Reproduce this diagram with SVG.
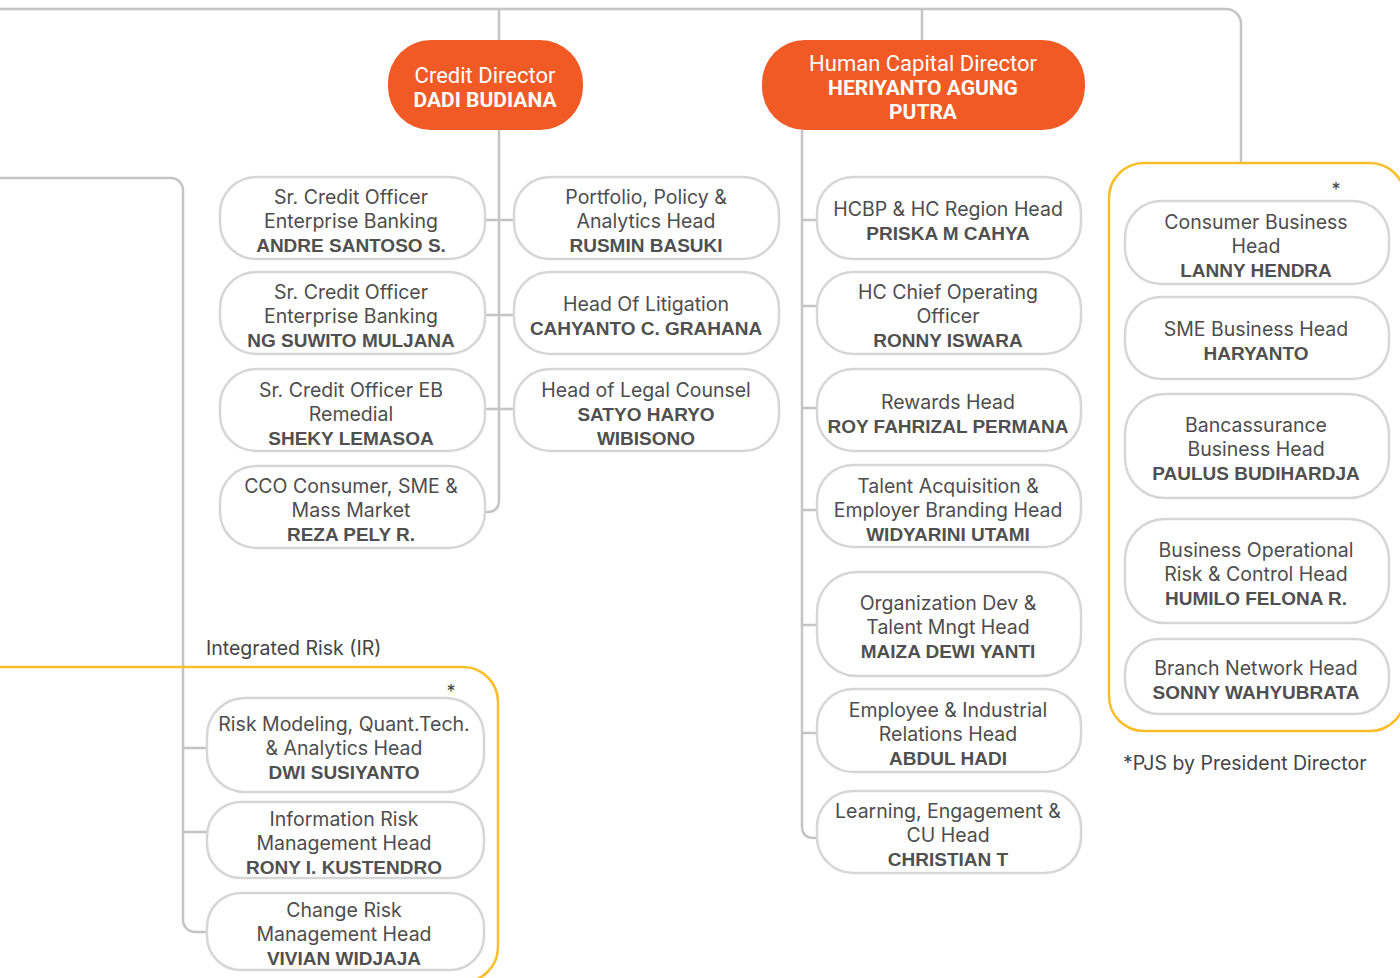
<svg xmlns="http://www.w3.org/2000/svg" width="1400" height="978" viewBox="0 0 1400 978">
<style>
.n{fill:#fff;stroke:#d6d6d6;stroke-width:2.5}
.d{fill:#f15a24}
.c{fill:none;stroke:#c4c4c4;stroke-width:2.5}
.y{fill:none;stroke:#fbbd2a;stroke-width:2.5}
text{font-family:Inter,"Open Sans","Liberation Sans",sans-serif;font-size:19.5px;fill:#4d4d4d;text-anchor:middle}
.b{font-family:"Liberation Sans",Arial,sans-serif;font-weight:bold;font-size:19px;fill:#505050}
.h{font-family:Roboto,"Liberation Sans",sans-serif;font-size:22px;fill:#fff}
.hb{font-family:Roboto,"Liberation Sans",sans-serif;font-size:21px;fill:#fff;font-weight:bold}
.l{text-anchor:start;fill:#444}
</style>
<g id="connectors">
<path class="c" d="M0,9 H1226 A15,15 0 0 1 1241,24 V163"/>
<path class="c" d="M499,9 V40 M922,9 V40"/>
<path class="c" d="M499,130 V500 Q499,512 487,512 H485 M486,220 H514 M486,315 H514 M486,409 H514"/>
<path class="c" d="M802,130 V826 Q802,838 814,838 H817 M802,220 H817 M802,306 H817 M802,408 H817 M802,510 H817 M802,625 H817 M802,733 H817"/>
<path class="c" d="M0,178 H171 A12,12 0 0 1 183,190 V920 A12,12 0 0 0 195,932 H207 M183,748 H207 M183,832 H207"/>
<path class="y" d="M0,667 H463 A35,35 0 0 1 498,702 V947 A35,35 0 0 1 463,982 H0"/>
<rect class="y" x="1109" y="163" width="296" height="568" rx="35"/>
</g>
<g id="credit-director"><rect class="d" x="388" y="40" width="195" height="90" rx="43"/><text class="h" x="485" y="83">Credit Director</text><text class="hb" x="485" y="107">DADI BUDIANA</text></g>
<g id="hc-director"><rect class="d" x="762" y="40" width="323" height="90" rx="43"/><text class="h" x="923" y="71">Human Capital Director</text><text class="hb" x="923" y="95">HERIYANTO AGUNG</text><text class="hb" x="923" y="119">PUTRA</text></g>

<g id="sco-andre"><rect class="n" x="220" y="177" width="265" height="82" rx="36"/><text x="351" y="204">Sr. Credit Officer</text><text x="351" y="228">Enterprise Banking</text><text class="b" x="351" y="252">ANDRE SANTOSO S.</text></g>
<g id="sco-ng"><rect class="n" x="220" y="272" width="265" height="82" rx="36"/><text x="351" y="299">Sr. Credit Officer</text><text x="351" y="323">Enterprise Banking</text><text class="b" x="351" y="347">NG SUWITO MULJANA</text></g>
<g id="sco-sheky"><rect class="n" x="220" y="369" width="265" height="82" rx="36"/><text x="351" y="397">Sr. Credit Officer EB</text><text x="351" y="421">Remedial</text><text class="b" x="351" y="445">SHEKY LEMASOA</text></g>
<g id="cco-reza"><rect class="n" x="220" y="466" width="265" height="82" rx="36"/><text x="351" y="493">CCO Consumer, SME &amp;</text><text x="351" y="517">Mass Market</text><text class="b" x="351" y="541">REZA PELY R.</text></g>

<g id="ppa-rusmin"><rect class="n" x="514" y="177" width="265" height="82" rx="36"/><text x="646" y="204">Portfolio, Policy &amp;</text><text x="646" y="228">Analytics Head</text><text class="b" x="646" y="252">RUSMIN BASUKI</text></g>
<g id="lit-cahyanto"><rect class="n" x="514" y="272" width="265" height="82" rx="36"/><text x="646" y="311">Head Of Litigation</text><text class="b" x="646" y="335">CAHYANTO C. GRAHANA</text></g>
<g id="legal-satyo"><rect class="n" x="514" y="369" width="265" height="82" rx="36"/><text x="646" y="397">Head of Legal Counsel</text><text class="b" x="646" y="421">SATYO HARYO</text><text class="b" x="646" y="445">WIBISONO</text></g>

<g id="hcbp-priska"><rect class="n" x="817" y="177" width="264" height="82" rx="36"/><text x="948" y="216">HCBP &amp; HC Region Head</text><text class="b" x="948" y="240">PRISKA M CAHYA</text></g>
<g id="hccoo-ronny"><rect class="n" x="817" y="272" width="264" height="82" rx="36"/><text x="948" y="299">HC Chief Operating</text><text x="948" y="323">Officer</text><text class="b" x="948" y="347">RONNY ISWARA</text></g>
<g id="rewards-roy"><rect class="n" x="817" y="369" width="264" height="82" rx="36"/><text x="948" y="409">Rewards Head</text><text class="b" x="948" y="433">ROY FAHRIZAL PERMANA</text></g>
<g id="ta-widyarini"><rect class="n" x="817" y="465" width="264" height="82" rx="36"/><text x="948" y="493">Talent Acquisition &amp;</text><text x="948" y="517">Employer Branding Head</text><text class="b" x="948" y="541">WIDYARINI UTAMI</text></g>
<g id="od-maiza"><rect class="n" x="817" y="572" width="264" height="104" rx="40"/><text x="948" y="610">Organization Dev &amp;</text><text x="948" y="634">Talent Mngt Head</text><text class="b" x="948" y="658">MAIZA DEWI YANTI</text></g>
<g id="eir-abdul"><rect class="n" x="817" y="689" width="264" height="83" rx="36"/><text x="948" y="717">Employee &amp; Industrial</text><text x="948" y="741">Relations Head</text><text class="b" x="948" y="765">ABDUL HADI</text></g>
<g id="le-christian"><rect class="n" x="817" y="791" width="264" height="82" rx="36"/><text x="948" y="818">Learning, Engagement &amp;</text><text x="948" y="842">CU Head</text><text class="b" x="948" y="866">CHRISTIAN T</text></g>

<text x="1336" y="196" style="font-size:18px;fill:#444">*</text>
<g id="consumer-lanny"><rect class="n" x="1125" y="201" width="264" height="83" rx="36"/><text x="1256" y="229">Consumer Business</text><text x="1256" y="253">Head</text><text class="b" x="1256" y="277">LANNY HENDRA</text></g>
<g id="sme-haryanto"><rect class="n" x="1125" y="297" width="264" height="82" rx="36"/><text x="1256" y="336">SME Business Head</text><text class="b" x="1256" y="360">HARYANTO</text></g>
<g id="banca-paulus"><rect class="n" x="1125" y="394" width="264" height="104" rx="40"/><text x="1256" y="432">Bancassurance</text><text x="1256" y="456">Business Head</text><text class="b" x="1256" y="480">PAULUS BUDIHARDJA</text></g>
<g id="borc-humilo"><rect class="n" x="1125" y="519" width="264" height="104" rx="40"/><text x="1256" y="557">Business Operational</text><text x="1256" y="581">Risk &amp; Control Head</text><text class="b" x="1256" y="605">HUMILO FELONA R.</text></g>
<g id="branch-sonny"><rect class="n" x="1125" y="639" width="264" height="75" rx="34"/><text x="1256" y="675">Branch Network Head</text><text class="b" x="1256" y="699">SONNY WAHYUBRATA</text></g>
<text class="l" x="1123" y="770">*PJS by President Director</text>

<text class="l" x="206" y="655">Integrated Risk (IR)</text>
<text x="451" y="698" style="font-size:18px;fill:#444">*</text>
<g id="rm-dwi"><rect class="n" x="207" y="698" width="277" height="94" rx="38"/><text x="344" y="731">Risk Modeling, Quant.Tech.</text><text x="344" y="755">&amp; Analytics Head</text><text class="b" x="344" y="779">DWI SUSIYANTO</text></g>
<g id="ir-rony"><rect class="n" x="207" y="802" width="277" height="76" rx="34"/><text x="344" y="826">Information Risk</text><text x="344" y="850">Management Head</text><text class="b" x="344" y="874">RONY I. KUSTENDRO</text></g>
<g id="cr-vivian"><rect class="n" x="207" y="893" width="277" height="77" rx="34"/><text x="344" y="917">Change Risk</text><text x="344" y="941">Management Head</text><text class="b" x="344" y="965">VIVIAN WIDJAJA</text></g>
</svg>
